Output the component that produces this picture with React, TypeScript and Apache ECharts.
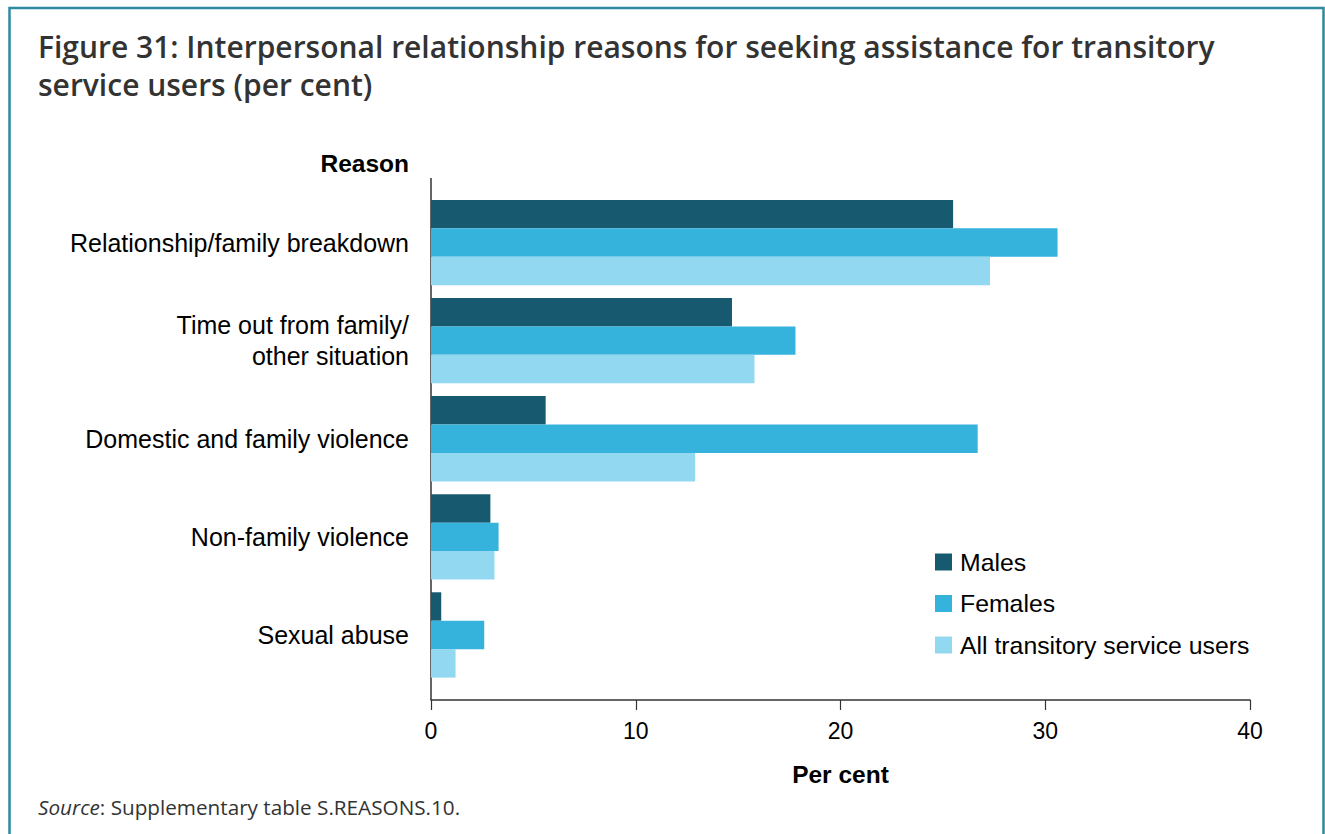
import React, { useEffect, useRef } from "react";
import * as echarts from "echarts";

const categories = [
  "Relationship/family breakdown",
  "Time out from family/\nother situation",
  "Domestic and family violence",
  "Non-family violence",
  "Sexual abuse",
];
const seriesNames = ["Males", "Females", "All transitory service users"];
const males = [25.5, 14.7, 5.6, 2.9, 0.5];
const females = [30.6, 17.8, 26.7, 3.3, 2.6];
const allUsers = [27.3, 15.8, 12.9, 3.1, 1.2];
const colors = ["#175a70", "#35b3dc", "#92d8f0"];
const xTicks = [0, 10, 20, 30, 40];

export default function App() {
  const ref = useRef<HTMLDivElement>(null);
  useEffect(() => {
    if (!ref.current) return;
    const chart = echarts.init(ref.current, null, { renderer: "svg" });
    const values = [males, females, allUsers];
    chart.setOption({
      animation: false,
      backgroundColor: "#ffffff",
      grid: { left: 431, right: 75, top: 193.5, bottom: 150, containLabel: false },
      legend: {
        orient: "vertical",
        left: 930,
        top: 544.5,
        itemWidth: 17,
        itemHeight: 17,
        itemGap: 16.5,
        icon: "rect",
        textStyle: { fontFamily: "Liberation Sans, Arial", fontSize: 24.8, color: "#000", padding: [0, 0, 0, 3] },
        data: seriesNames,
      },
      xAxis: {
        type: "value",
        min: xTicks[0],
        max: xTicks[xTicks.length - 1],
        interval: 10,
        offset: 16,
        splitLine: { show: false },
        axisLine: { show: true, lineStyle: { color: "#333", width: 1.5 } },
        axisTick: { show: true, length: 10, lineStyle: { color: "#333", width: 1.2 } },
        axisLabel: { fontFamily: "Liberation Sans, Arial", fontSize: 23, color: "#000", margin: 19 },
        name: "Per cent",
        nameLocation: "middle",
        nameGap: 62,
        nameTextStyle: { fontFamily: "Liberation Sans, Arial", fontSize: 24.5, fontWeight: "bold", color: "#000" },
      },
      yAxis: {
        type: "category",
        inverse: true,
        data: categories,
        axisLine: { show: false },
        axisTick: { show: false },
        axisLabel: {
          fontFamily: "Liberation Sans, Arial",
          fontSize: 25,
          color: "#000",
          margin: 22,
          lineHeight: 31,
        },
      },
      series: seriesNames.map((name, i) => ({
        name,
        type: "bar",
        data: values[i],
        barGap: "0%",
        barCategoryGap: "13%",
        itemStyle: { color: colors[i] },
      })),
      graphic: [
        {
          type: "rect",
          shape: { x: 9.5, y: 8, width: 1314, height: 840 },
          style: { fill: "none", stroke: "#2e8aa0", lineWidth: 2.5 },
          silent: true,
        },
        {
          type: "line",
          shape: { x1: 431, y1: 178, x2: 431, y2: 700 },
          style: { stroke: "#333", lineWidth: 1.5 },
        },
        {
          type: "text",
          left: 38,
          top: 27,
          style: {
            text: "Figure 31: Interpersonal relationship reasons for seeking assistance for transitory\nservice users (per cent)",
            font: "600 30px 'Open Sans'",
            fill: "#333",
            lineHeight: 38,
          },
        },
        {
          type: "text",
          x: 409,
          y: 163,
          style: {
            text: "Reason",
            font: "bold 24.5px 'Liberation Sans', Arial",
            fill: "#000",
            align: "right",
            verticalAlign: "middle",
          },
        },
        {
          type: "text",
          x: 38,
          y: 807,
          style: {
            text: "{i|Source}{n|: Supplementary table S.REASONS.10.}",
            verticalAlign: "middle",
            rich: {
              i: { fontFamily: "Open Sans", fontStyle: "italic", fontSize: 20.7, fill: "#333" },
              n: { fontFamily: "Open Sans", fontSize: 20.7, fill: "#333" },
            },
          },
        },
      ],
    });
    return () => chart.dispose();
  }, []);
  return (
    <div
      ref={ref}
      style={{ position: "absolute", left: 0, top: 0, width: 1325, height: 834 }}
    />
  );
}
